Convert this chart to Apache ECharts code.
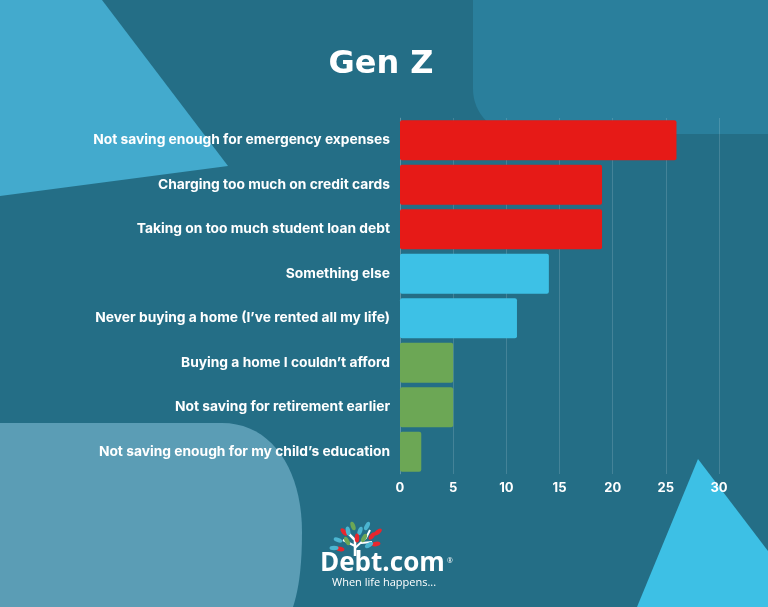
<!DOCTYPE html>
<html><head><meta charset="utf-8">
<script src="https://cdn.jsdelivr.net/npm/echarts@6/dist/echarts.min.js"></script>
<style>html,body{margin:0;padding:0;background:#246e86}#c{width:768px;height:607px}</style>
</head><body><div id="c"></div>
<script>
const categories = [
  "Not saving enough for emergency expenses",
  "Charging too much on credit cards",
  "Taking on too much student loan debt",
  "Something else",
  "Never buying a home (I\u2019ve rented all my life)",
  "Buying a home I couldn\u2019t afford",
  "Not saving for retirement earlier",
  "Not saving enough for my child\u2019s education"
];
const values = [26, 19, 19, 14, 11, 5, 5, 2];
const barColors = ["#e61a17","#e61a17","#e61a17","#3dc1e6","#3dc1e6","#6ca755","#6ca755","#6ca755"];
const xTicks = [0, 5, 10, 15, 20, 25, 30];

function bez(p0,p1,p2,p3,n){
  const out=[];
  for(let i=0;i<=n;i++){const t=i/n,u=1-t;
    out.push([u*u*u*p0[0]+3*u*u*t*p1[0]+3*u*t*t*p2[0]+t*t*t*p3[0],
              u*u*u*p0[1]+3*u*u*t*p1[1]+3*u*t*t*p2[1]+t*t*t*p3[1]]);}
  return out;
}
const blShape = [[0,423]]
  .concat(bez([222,423],[272,423],[302,470],[302,532],20))
  .concat(bez([302,532],[302,570],[298,592],[293,607],10))
  .concat([[0,607]]);

const leaves = [
  [353,526,-20,'#6ca755'],[344,532,-40,'#e8262d'],[338,540,-70,'#4bb5d0'],[340,549,-80,'#e8262d'],
  [347,541,-30,'#6ca755'],[360,531,20,'#4bb5d0'],[367,526,30,'#4bb5d0'],[372,536,40,'#e8262d'],
  [378,532,50,'#e8262d'],[376,544,80,'#e8262d'],[369,545,60,'#4bb5d0'],[334,548,-90,'#4bb5d0'],
  [357,538,0,'#e8262d'],[364,538,30,'#6ca755'],[348,531,-10,'#4bb5d0']
];
const leafEls = leaves.map(l => ({
  type:'circle', x:l[0], y:l[1], rotation:-l[2]*Math.PI/180, scaleX:0.5,
  shape:{cx:0, cy:0, r:4.5}, style:{fill:l[3]}, z:5
}));

const chart = echarts.init(document.getElementById('c'));
chart.setOption({
  backgroundColor:'#246e86',
  animation:false,
  graphic:[
    {type:'polygon', z:-10, shape:{points:[[0,0],[102,0],[228,166],[0,196]]}, style:{fill:'#43aacd'}},
    {type:'rect', z:-10, shape:{x:473, y:0, width:295, height:134, r:[0,0,0,45]}, style:{fill:'#2a7f9c'}},
    {type:'polygon', z:-10, shape:{points:blShape}, style:{fill:'#5b9db5'}},
    {type:'polygon', z:-10, shape:{points:[[698,459],[768,551],[768,607],[637,607]]}, style:{fill:'#3dc0e5'}},
    {type:'text', z:5, x:381, y:65, style:{text:'Gen Z', fill:'#ffffff', align:'center', verticalAlign:'middle', font:'bold 32px "DejaVu Sans", sans-serif'}},
    {type:'polyline', z:5, shape:{points:[[355,556],[355,540],[347,532]]}, style:{stroke:'#fff', lineWidth:2.5, fill:null}},
    {type:'polyline', z:5, shape:{points:[[355,546],[343,540]]}, style:{stroke:'#fff', lineWidth:2, fill:null}},
    {type:'polyline', z:5, shape:{points:[[355,548],[366,538],[370,530]]}, style:{stroke:'#fff', lineWidth:2, fill:null}},
    {type:'polyline', z:5, shape:{points:[[361,543],[372,542]]}, style:{stroke:'#fff', lineWidth:1.8, fill:null}},
    ...leafEls,
    {type:'text', z:5, x:320, y:551, style:{text:'Debt.com', fill:'#ffffff', font:'bold 26px "Open Sans", sans-serif'}},
    {type:'text', z:5, x:447, y:557, style:{text:'\u00ae', fill:'#ffffff', font:'7px "Open Sans", sans-serif'}},
    {type:'text', z:5, x:332, y:577, style:{text:'When life happens...', fill:'#ffffff', font:'11px "Open Sans", sans-serif'}}
  ],
  grid:{left:400, top:118, width:319, height:356, containLabel:false},
  xAxis:{
    type:'value', min:0, max:30, interval:5,
    axisLine:{show:false}, axisTick:{show:false},
    splitLine:{show:true, lineStyle:{color:'rgba(255,255,255,0.15)', width:1}},
    axisLabel:{color:'#ffffff', fontWeight:'bold', fontSize:13, fontFamily:'Inter, sans-serif', margin:8,
      formatter:v => xTicks.includes(v) ? String(v) : ''}
  },
  yAxis:{
    type:'category', data:categories, inverse:true,
    axisLine:{show:true, lineStyle:{color:'rgba(255,255,255,0.15)'}}, axisTick:{show:false},
    axisLabel:{color:'#ffffff', fontWeight:'bold', fontSize:13.8, fontFamily:'Inter, sans-serif', margin:10}
  },
  series:[{
    type:'bar', data:values.map((v,i)=>({value:v, itemStyle:{color:barColors[i]}})),
    barCategoryGap:'10%',
    itemStyle:{borderRadius:2}
  }]
});
</script></body></html>
